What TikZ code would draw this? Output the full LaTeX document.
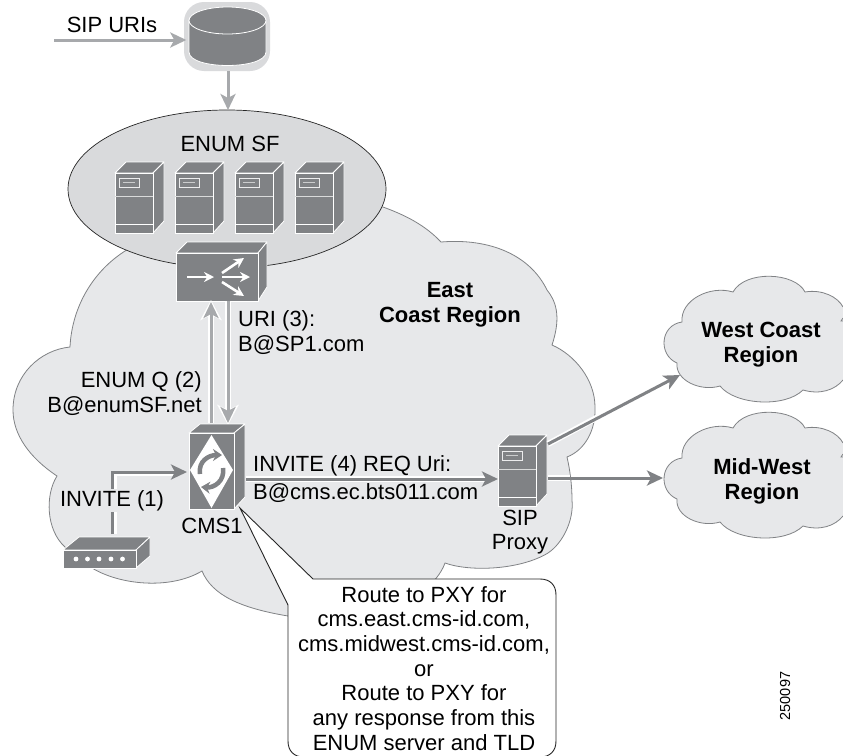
\documentclass[tikz,border=0pt]{standalone}
\usepackage{fontspec}
\setmainfont{Liberation Sans}
\usetikzlibrary{arrows.meta,calc}
\definecolor{cloudfill}{HTML}{E7E8EA}
\definecolor{sffill}{HTML}{D9DADC}
\definecolor{devgray}{HTML}{808285}
\definecolor{lightarrow}{HTML}{A7A9AC}
\tikzset{
  x=1pt,y=-1pt,
  lbl/.style={font=\fontsize{22}{24.7}\selectfont,align=center,inner sep=0pt,text=black},
  blbl/.style={font=\fontsize{22}{25}\selectfont\bfseries,align=center,inner sep=0pt,text=black},
  cloudline/.style={draw=devgray,line width=0.8pt,fill=cloudfill},
  devface/.style={fill=devgray,draw=white,line width=0.8pt,line join=round},
  halo/.style={draw=white,line width=6pt,-{Stealth[length=20pt,width=21pt,inset=5pt]}},
  darrow/.style={draw=devgray,line width=3pt,-{Stealth[length=16pt,width=15pt,inset=4pt]}},
  larrow/.style={draw=lightarrow,line width=3pt,-{Stealth[length=16pt,width=15pt,inset=4pt]}},
}
\newcommand{\towerserver}[2]{% x,y = top-left of front face
  \begin{scope}[shift={(#1,#2)}]
    \fill[devface] (0,0) -- (11,-11) -- (49,-11) -- (38,0) -- cycle;
    \fill[devface] (38,0) -- (49,-11) -- (49,48) -- (38,60) -- cycle;
    \fill[devface] (0,0) rectangle (38,60);
    \draw[white!70!devgray,line width=1pt] (0,23.5) -- (38,23.5);
    \draw[white,line width=0.8pt] (0,51) -- (38,51);
    \draw[white!85!devgray,line width=0.8pt] (4,5) rectangle (24,14);
    \draw[white!60!devgray,line width=1.2pt] (8,9.5) -- (20,9.5);
  \end{scope}}
\newcommand{\regioncloud}{%
  \path[cloudline] (843,307)
  .. controls (838,297) and (822,289) .. (805,292)
  .. controls (795,272) and (745,270) .. (733,292)
  .. controls (710,285) and (680,300) .. (682,322)
  .. controls (660,325) and (658,355) .. (677,363)
  .. controls (675,380) and (700,392) .. (720,386)
  .. controls (735,405) and (785,408) .. (803,390)
  .. controls (820,395) and (835,390) .. (843,380);
  \draw[devgray,line width=0.8pt] (843,318) -- (841,321) -- (843,321);}
\begin{document}
\begin{tikzpicture}
\useasboundingbox (0,0) rectangle (843,755);
\clip (0,0) rectangle (843,755);
\fill[white] (0,0) rectangle (843,755);
% East coast cloud
\path[cloudline] (300,200) -- (130,248)
  .. controls (95,268) and (72,305) .. (70,347)
  .. controls (40,350) and (13,375) .. (13,410)
  .. controls (13,435) and (30,458) .. (57,476)
  .. controls (45,495) and (46,530) .. (65,547)
  .. controls (72,557) and (82,564) .. (92,568)
  .. controls (120,585) and (170,590) .. (202,571)
  .. controls (212,595) and (240,608) .. (288,616)
  .. controls (340,640) and (430,605) .. (445,563)
  .. controls (470,572) and (520,570) .. (548,553)
  .. controls (563,543) and (574,520) .. (572,500)
  .. controls (572,485) and (570,470) .. (567,457)
  .. controls (585,450) and (596,430) .. (595,407)
  .. controls (595,380) and (575,355) .. (552,345)
  .. controls (562,315) and (555,300) .. (547,290)
  .. controls (530,255) and (490,238) .. (441,242)
  .. controls (425,225) and (405,215) .. (383,207)
  -- (300,200) -- cycle;
% SF ellipse
\path[draw=black!85,line width=0.7pt,fill=sffill] (227,189) ellipse [x radius=159,y radius=79];
\node[lbl,anchor=base] (sflabel) at (230,151) {ENUM SF};
\towerserver{115}{173}
\towerserver{175}{173}
\towerserver{235}{173}
\towerserver{295}{173}
% Database
\fill[sffill,rounded corners=20pt] (184,2) rectangle (270,71);
\path[fill=devgray,draw=white,line width=0.8pt] (189,20) -- (189,52)
  .. controls (189,70) and (266,70) .. (266,52) -- (266,20) -- cycle;
\path[fill=devgray,draw=white,line width=0.8pt] (227.5,20.5) ellipse [x radius=38.5,y radius=13.5];
\node[inner sep=0pt,minimum width=82pt,minimum height=64pt] (db) at (227.5,36.5) {};
\coordinate (sipin) at (54,40);
\draw[larrow] (sipin) -- (db.west |- sipin);
\node[lbl,anchor=base] (sipuris) at (112,32) {SIP URIs};
\coordinate (sftop) at (228,110);
\draw[larrow] (228,71) -- (sftop);
% Router
\begin{scope}[shift={(176,253)}]
  \fill[devface] (0,0) -- (11,-11) -- (91,-11) -- (82,0) -- cycle;
  \fill[devface] (82,0) -- (91,-11) -- (91,34) -- (82,48) -- cycle;
  \fill[devface] (0,0) rectangle (82,48);
  \draw[white,line width=2.6pt,-{Stealth[length=10pt,width=10pt]}] (11,24) -- (38,24);
  \draw[white,line width=2.6pt,-{Stealth[length=10pt,width=10pt]}] (46,20) -- (68,5);
  \draw[white,line width=2.6pt,-{Stealth[length=10pt,width=10pt]}] (46,24) -- (74,24);
  \draw[white,line width=2.6pt,-{Stealth[length=10pt,width=10pt]}] (46,29) -- (68,43);
\end{scope}
% Vertical arrows
\draw[halo] (211,423) -- (211,300);
\draw[larrow] (211,423) -- (211,302);
\draw[halo] (228,301) -- (228,425);
\draw[larrow] (228,301) -- (228,423);
\node[lbl,anchor=base west] (uri3) at (238,326) {URI (3):};
\node[lbl,anchor=base west] (urib) at (238,351) {B@SP1.com};
\node[lbl,anchor=base east] (enumq) at (202,387) {ENUM Q (2)};
\node[lbl,anchor=base east] (enumb) at (202,412) {B@enumSF.net};
\node[blbl] (east) at (450,304.5) {East\\Coast Region};
% CMS
\begin{scope}[shift={(189,433)}]
  \fill[devface] (0,0) -- (11,-9) -- (56,-9) -- (45,0) -- cycle;
  \fill[devface] (45,0) -- (56,-9) -- (56,64) -- (45,76) -- cycle;
  \fill[devface] (0,0) rectangle (45,76);
  \fill[white] (22.5,2) -- (44,37) -- (22.5,75) -- (1,37) -- cycle;
  \draw[devgray,line width=4.5pt,-{Stealth[length=9pt,width=12pt]}] (11,41) .. controls (9,28) and (20,22) .. (33,22);
  \draw[devgray,line width=4.5pt,-{Stealth[length=9pt,width=12pt]}] (34,35) .. controls (36,48) and (25,55) .. (12,54);
\end{scope}
\node[lbl,anchor=base] (cms) at (212,533) {CMS1};
% Modem
\begin{scope}[shift={(63,550)}]
  \fill[devface] (0,0) -- (16,-13) -- (87,-13) -- (73,0) -- cycle;
  \fill[devface] (73,0) -- (87,-13) -- (87,6) -- (73,18) -- cycle;
  \fill[devface] (0,0) rectangle (73,18);
  \foreach \dx in {13,24.5,36,48,59.5}{\fill[white] (\dx,9) circle (2.4);}
\end{scope}
% INVITE 1
\draw[white,line width=3pt] (115,534) -- (115,474.5) -- (175,474.5);
\draw[darrow] (112,534) -- (112,472) -- (187,472);
\fill[cloudfill] (66,489) rectangle (160,512);
\node[lbl,anchor=base] (inv1) at (112,506) {INVITE (1)};
% INVITE 4
\draw[white,line width=6pt] (246,479) -- (490,479);
\draw[darrow] (246,479) -- (498,479);
\node[lbl,anchor=base west] (inv4) at (253,471) {INVITE (4) REQ Uri:};
\node[lbl,anchor=base west] (inv4b) at (253,499) {B@cms.ec.bts011.com};
% SIP proxy
\towerserver{498}{446}
\node[lbl] (proxy) at (520,532) {SIP\\Proxy};
% West and mid clouds
\regioncloud
\node[blbl] (west) at (761,345) {West Coast\\Region};
\begin{scope}[yshift=-136pt]
\regioncloud
\end{scope}
\node[blbl] (mid) at (762,481) {Mid-West\\Region};
% Proxy arrows
\draw[white,line width=6pt] (548,444) -- (600,416);
\draw[darrow] (548,444) -- (680,375);
\draw[white,line width=6pt] (548,478) -- (570,478);
\draw[darrow] (548,478) -- (663,478);
% Callout
\path[draw=black!85,line width=0.9pt,fill=white]
  (240,508) -- (313,579) -- (540,579) .. controls (550,579) and (556,585) .. (556,595)
  -- (556,741) .. controls (556,751) and (550,757) .. (540,757)
  -- (304,757) .. controls (294,757) and (288,751) .. (288,741)
  -- (288,605) -- cycle;
\node[lbl,anchor=north] (callout) at (424,586) {Route to PXY for\\cms.east.cms-id.com,\\cms.midwest.cms-id.com,\\or\\Route to PXY for\\any response from this\\ENUM server and TLD};
\node[font=\fontsize{14.5}{16}\selectfont,rotate=90,inner sep=0pt] (num) at (785,696) {250097};
\end{tikzpicture}
\end{document}
